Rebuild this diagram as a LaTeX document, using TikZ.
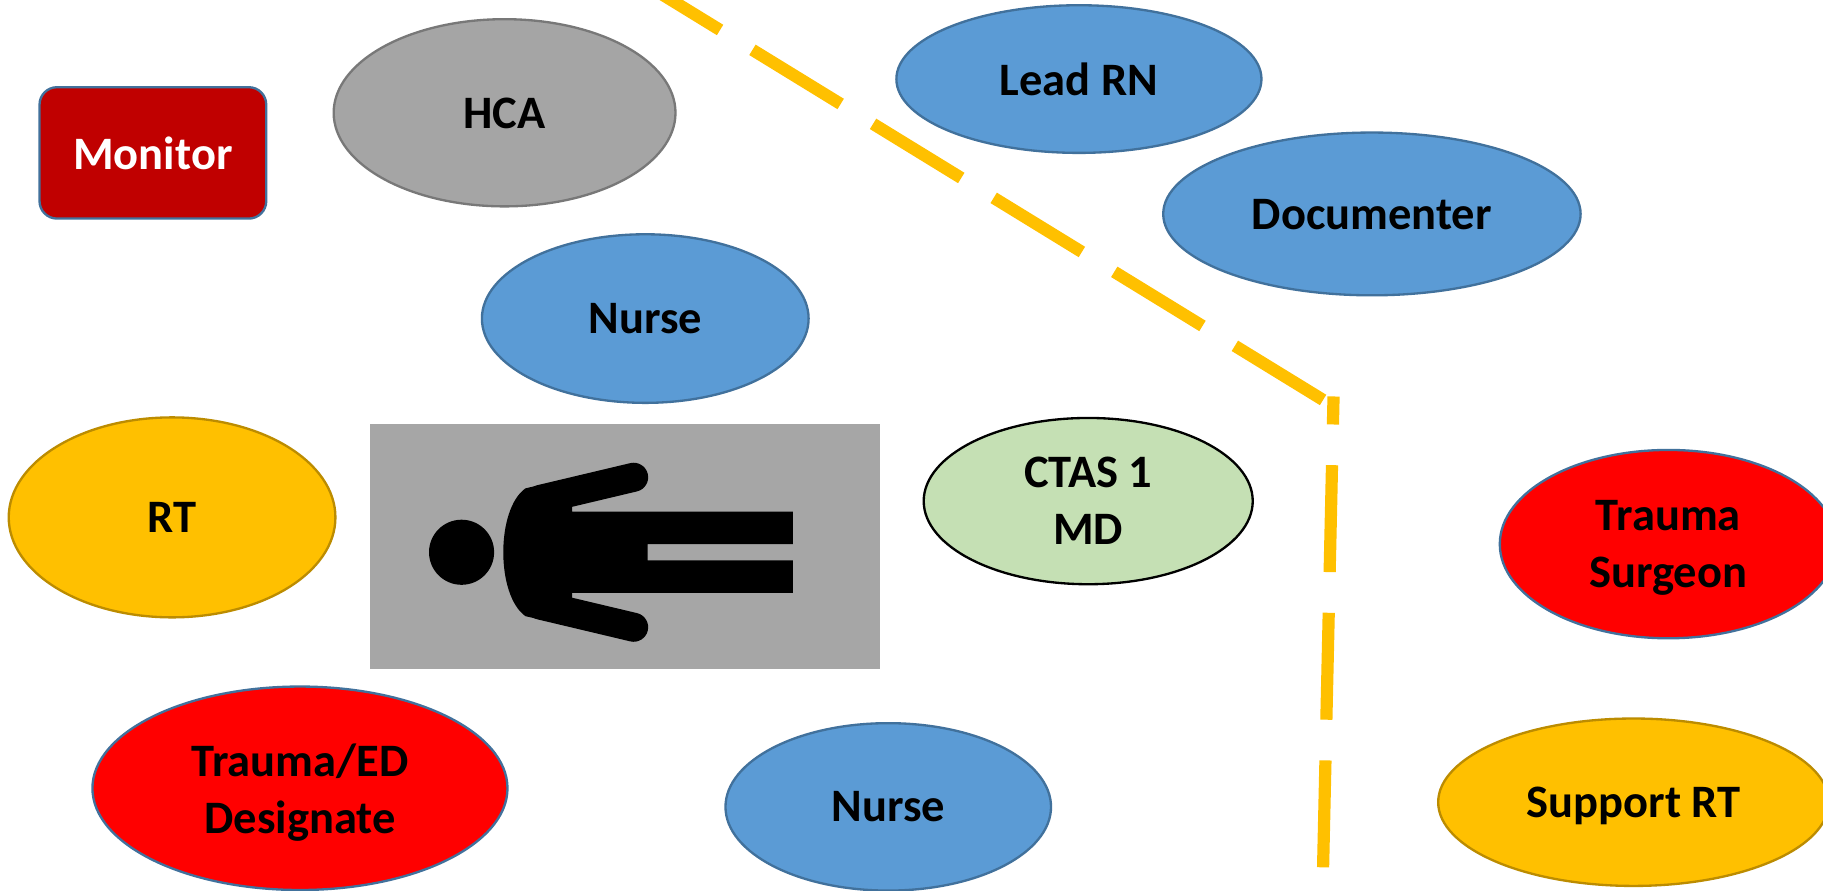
\documentclass[tikz,border=0pt]{standalone}
\usepackage{fontspec}
\setmainfont{Carlito}
\usetikzlibrary{shapes.geometric}
\definecolor{blueF}{HTML}{5B9BD5}
\definecolor{blueD}{HTML}{41719C}
\definecolor{goldF}{HTML}{FFC000}
\definecolor{goldD}{HTML}{BC8C00}
\definecolor{grayF}{HTML}{A5A5A5}
\definecolor{grayD}{HTML}{787878}
\definecolor{greenF}{HTML}{C5E0B4}
\definecolor{darkredF}{HTML}{C00000}
\definecolor{redF}{HTML}{FF0000}
\definecolor{bedF}{HTML}{A6A6A6}
\begin{document}
\begin{tikzpicture}[x=1pt,y=-1pt,
  role/.style={ellipse, inner sep=0pt, line width=2pt, align=center, text depth=0pt,
    font=\fontsize{40}{49}\selectfont\bfseries},
  bluerole/.style={role, fill=blueF, draw=blueD},
  goldrole/.style={role, fill=goldF, draw=goldD},
  redrole/.style={role, fill=redF, draw=blueD},
  divider/.style={goldF, line width=10.5pt}]
\useasboundingbox (0,0) rectangle (1568,766);
\clip (0,0) rectangle (1568,766);
\fill[white] (0,0) rectangle (1568,766);

% divider line
\coordinate (cornerA) at (1138,344);
\coordinate (topend) at (561,-10);
\coordinate (cornerB) at (1147,341);
\coordinate (botend) at (1138,746);
\draw[divider, dash pattern=on 89pt off 32.7pt] (cornerA) -- (topend);
\draw[divider, dash pattern=on 92pt off 35pt] (botend) -- (cornerB);

% monitor
\node (monitor) [rectangle, rounded corners=15pt, fill=darkredF, draw=blueD, line width=2pt,
  minimum width=195pt, minimum height=113pt, text=white, text depth=0pt,
  font=\fontsize{40}{49}\selectfont\bfseries] at (131.5,131.5) {Monitor};

% roles
\node (hca) [role, fill=grayF, draw=grayD, minimum width=294pt, minimum height=161pt] at (434,97) {HCA};
\node (lead) [bluerole, minimum width=314pt, minimum height=127pt] at (928,68) {Lead RN};
\node (doc) [bluerole, minimum width=359pt, minimum height=140pt] at (1180,184) {Documenter};
\node (nurse1) [bluerole, minimum width=281pt, minimum height=145pt] at (555,274) {Nurse};
\node (rt) [goldrole, minimum width=281pt, minimum height=172pt] at (148,445) {RT};
\node (ctas) [role, fill=greenF, draw=black, minimum width=283pt, minimum height=143pt] at (936,431) {CTAS 1\\MD};
\node (surgeon) [redrole, minimum width=290pt, minimum height=162pt] at (1435,468) {Trauma\\Surgeon};
\node (support) [goldrole, minimum width=336pt, minimum height=144pt] at (1405,690) {Support RT};
\node (designate) [redrole, minimum width=357pt, minimum height=175pt] at (258,678) {Trauma/ED\\Designate};
\node (nurse2) [bluerole, minimum width=280pt, minimum height=144pt] at (764,694) {Nurse};

% patient bed
\node (bed) [rectangle, fill=bedF, inner sep=0pt, minimum width=439pt, minimum height=210pt] at (537.5,470) {};
\fill[black] (397,475) circle [radius=28pt];
\fill[black] (452,420) -- (492,411) -- (492,440) -- (682,440) -- (682,468) -- (557,468)
  -- (557,482) -- (682,482) -- (682,510) -- (492,510) -- (492,539) -- (452,530)
  .. controls (426.5,512) and (426.5,438) .. (452,420) -- cycle;
\draw[black, line width=25pt, line cap=round] (465,429.5) -- (545,410.5);
\draw[black, line width=25pt, line cap=round] (465,520.5) -- (545,539.5);
\end{tikzpicture}
\end{document}
